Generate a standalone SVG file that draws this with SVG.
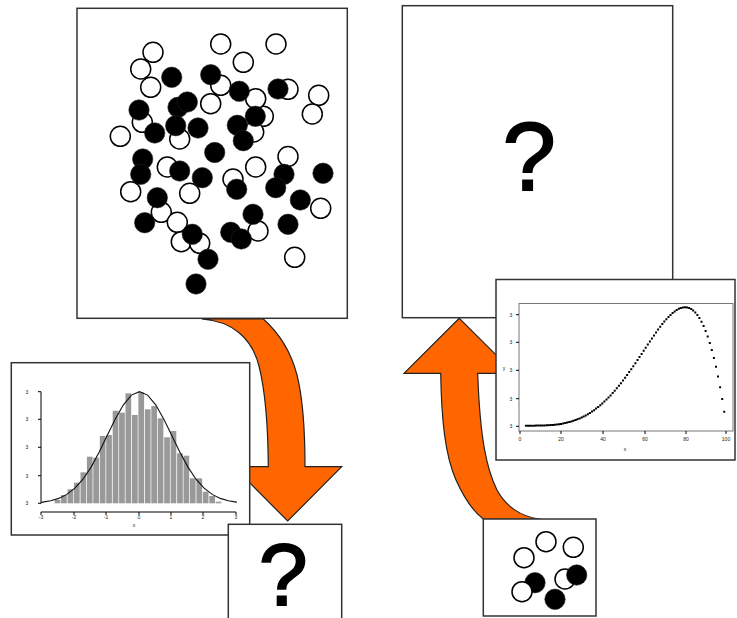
<svg xmlns="http://www.w3.org/2000/svg" width="737" height="618" viewBox="0 0 737 618">
<style>
.box{fill:#fff;stroke:#333;stroke-width:1.5}
.o{fill:#fff;stroke:#000;stroke-width:1.5}
.b{fill:#000;stroke:#222;stroke-width:0.6}
.arrow{fill:#ff6600;stroke:#222;stroke-width:1.2;stroke-linejoin:miter}
.q{font-family:"Liberation Sans",Arial,sans-serif;fill:#000;stroke:#000;stroke-width:1.8;text-anchor:middle}
.t{font-family:"Liberation Sans",Arial,sans-serif;fill:#222;text-anchor:middle;font-size:5px}
.ax{stroke:#000;stroke-width:1;fill:none}
.bar{fill:#999}
</style>
<rect width="737" height="618" fill="#fff"/>

<g id="population">
<rect class="box" x="77" y="8.3" width="270.3" height="310"/>
<g>
<circle class="o" cx="140.7" cy="69" r="10"/>
<circle class="o" cx="153" cy="52.3" r="10"/>
<circle class="o" cx="150.7" cy="87.3" r="10"/>
<circle class="o" cx="220.7" cy="44" r="10"/>
<circle class="o" cx="276" cy="44" r="10"/>
<circle class="o" cx="243.3" cy="62.3" r="10"/>
<circle class="o" cx="220.7" cy="85.3" r="10"/>
<circle class="o" cx="288" cy="89.3" r="10"/>
<circle class="o" cx="318.7" cy="95.3" r="10"/>
<circle class="o" cx="312.3" cy="114" r="10"/>
<circle class="o" cx="210.7" cy="103.7" r="10"/>
<circle class="o" cx="263.3" cy="116.3" r="10"/>
<circle class="o" cx="255.7" cy="98.7" r="10"/>
<circle class="o" cx="142.3" cy="122.3" r="10"/>
<circle class="o" cx="120.3" cy="136.3" r="10"/>
<circle class="o" cx="179.7" cy="139" r="10"/>
<circle class="o" cx="253.7" cy="132" r="10"/>
<circle class="o" cx="288" cy="156.5" r="10"/>
<circle class="o" cx="167.3" cy="167" r="10"/>
<circle class="o" cx="255.7" cy="167" r="10"/>
<circle class="o" cx="233" cy="179" r="10"/>
<circle class="o" cx="130.7" cy="191.7" r="10"/>
<circle class="o" cx="189.7" cy="193.3" r="10"/>
<circle class="o" cx="161.3" cy="212.3" r="10"/>
<circle class="o" cx="177.3" cy="222.3" r="10"/>
<circle class="o" cx="258" cy="231" r="10"/>
<circle class="o" cx="181.3" cy="241.7" r="10"/>
<circle class="o" cx="199.7" cy="243.3" r="10"/>
<circle class="o" cx="320.7" cy="208.3" r="10"/>
<circle class="o" cx="294.7" cy="257.3" r="10"/>
</g>
<g>
<circle class="b" cx="171.7" cy="77.3" r="10.2"/>
<circle class="b" cx="210.7" cy="74.7" r="10.2"/>
<circle class="b" cx="239.3" cy="91.3" r="10.2"/>
<circle class="b" cx="278" cy="89" r="10.2"/>
<circle class="b" cx="139" cy="110" r="10.2"/>
<circle class="b" cx="178" cy="107.3" r="10.2"/>
<circle class="b" cx="187.3" cy="102" r="10.2"/>
<circle class="b" cx="255.3" cy="116.3" r="10.2"/>
<circle class="b" cx="154.7" cy="133" r="10.2"/>
<circle class="b" cx="175.7" cy="125.7" r="10.2"/>
<circle class="b" cx="198" cy="128" r="10.2"/>
<circle class="b" cx="237.3" cy="125.3" r="10.2"/>
<circle class="b" cx="243.3" cy="140.7" r="10.2"/>
<circle class="b" cx="214.7" cy="152.5" r="10.2"/>
<circle class="b" cx="142.7" cy="159" r="10.2"/>
<circle class="b" cx="140.7" cy="174.3" r="10.2"/>
<circle class="b" cx="179.7" cy="171" r="10.2"/>
<circle class="b" cx="202.3" cy="177.7" r="10.2"/>
<circle class="b" cx="236.7" cy="189.3" r="10.2"/>
<circle class="b" cx="284" cy="174.3" r="10.2"/>
<circle class="b" cx="275.7" cy="187.7" r="10.2"/>
<circle class="b" cx="323" cy="173.3" r="10.2"/>
<circle class="b" cx="157.3" cy="197.7" r="10.2"/>
<circle class="b" cx="300.3" cy="200" r="10.2"/>
<circle class="b" cx="253" cy="214.3" r="10.2"/>
<circle class="b" cx="144.7" cy="222.7" r="10.2"/>
<circle class="b" cx="288" cy="224.3" r="10.2"/>
<circle class="b" cx="230.7" cy="232.3" r="10.2"/>
<circle class="b" cx="241.3" cy="239" r="10.2"/>
<circle class="b" cx="192.3" cy="234.3" r="10.2"/>
<circle class="b" cx="208" cy="259.3" r="10.2"/>
<circle class="b" cx="196" cy="284" r="10.2"/>
</g>
</g>

<g id="unknown-population">
<rect class="box" x="402.3" y="5.7" width="270.4" height="312"/>
<text class="q" x="529.3" y="189.5" font-size="96">?</text>
</g>

<g id="connectors">
<path id="arrow-down" class="arrow" d="M201.7 319 C232 321 252 338 259 366 C265 390 268 420 268.3 466.7 L233.7 466.7 L287.7 521 L341.7 466.7 L305 466.7 C305 425 302 395 297 375 C291 352 279 333 263.3 319 Z"/>
<path id="arrow-up" class="arrow" d="M459.3 318.3 L404 373.3 L440.7 373.3 C441.5 420 445 455 456 480 C465 500 474 512 483.3 519 L540 519 C520 517 505 505 497 490 C487 470 480 440 477.7 373.3 L514.6 373.3 Z"/>
</g>

<g id="histogram">
<rect class="box" x="11.3" y="362.7" width="238.4" height="172.3"/>
<g>
<rect class="bar" x="54.7" y="500" width="5.7" height="3.3"/>
<rect class="bar" x="61.1" y="495" width="5.7" height="8.3"/>
<rect class="bar" x="67.6" y="489.3" width="5.7" height="14"/>
<rect class="bar" x="74" y="482.7" width="5.7" height="20.6"/>
<rect class="bar" x="80.5" y="472.3" width="5.7" height="31"/>
<rect class="bar" x="86.9" y="456.7" width="5.7" height="46.6"/>
<rect class="bar" x="93.3" y="457.7" width="5.7" height="45.6"/>
<rect class="bar" x="99.8" y="436" width="5.7" height="67.3"/>
<rect class="bar" x="106.2" y="435" width="5.7" height="68.3"/>
<rect class="bar" x="112.7" y="410.7" width="5.7" height="92.6"/>
<rect class="bar" x="119.1" y="412.7" width="5.7" height="90.6"/>
<rect class="bar" x="125.5" y="393.3" width="5.7" height="110"/>
<rect class="bar" x="132" y="415" width="5.7" height="88.3"/>
<rect class="bar" x="138.4" y="392.3" width="5.7" height="111"/>
<rect class="bar" x="144.9" y="409.3" width="5.7" height="94"/>
<rect class="bar" x="151.3" y="406" width="5.7" height="97.3"/>
<rect class="bar" x="157.7" y="418.3" width="5.7" height="85"/>
<rect class="bar" x="164.2" y="437.3" width="5.7" height="66"/>
<rect class="bar" x="170.6" y="431" width="5.7" height="72.3"/>
<rect class="bar" x="177.1" y="453.3" width="5.7" height="50"/>
<rect class="bar" x="183.5" y="455.7" width="5.7" height="47.6"/>
<rect class="bar" x="189.9" y="478.3" width="5.7" height="25"/>
<rect class="bar" x="196.4" y="478.3" width="5.7" height="25"/>
<rect class="bar" x="202.8" y="491.7" width="5.7" height="11.6"/>
<rect class="bar" x="209.3" y="496" width="5.7" height="7.3"/>
<rect class="bar" x="215.7" y="501.7" width="5.7" height="1.6"/>
</g>
<path fill="none" stroke="#111" stroke-width="1.1" d="M41 502.7 L42.6 502.1 L50.7 500.8 L58.8 498.4 L66.8 494.4 L74.9 488.2 L83 479.2 L91.1 467.1 L99.1 452.2 L107.2 435.6 L115.3 419.1 L123.4 404.8 L131.4 395.1 L139.5 391.7 L147.6 395.1 L155.7 404.8 L163.7 419.1 L171.8 435.6 L179.9 452.2 L188 467.1 L196 479.2 L204.1 488.2 L212.2 494.4 L220.3 498.4 L228.3 500.8 L236.4 502.1 L237 502.3"/>
<path class="ax" d="M41 391.7 V503.3 M38 391.7 H41 M38 419.3 H41 M38 447.3 H41 M38 475.7 H41 M38 503.3 H41"/>
<path class="ax" d="M41 512 H236 M41 512 V515 M74 512 V515 M106 512 V515 M139 512 V515 M171 512 V515 M203 512 V515 M236 512 V515"/>
<g class="t" font-size="4">
<text x="27" y="393.5">3</text><text x="27" y="421">3</text><text x="27" y="449">3</text><text x="27" y="477.5">3</text><text x="27" y="505">3</text>
<text x="41" y="519">-3</text><text x="74" y="519">-2</text><text x="106" y="519">-1</text><text x="139" y="519">0</text><text x="171" y="519">1</text><text x="203" y="519">2</text><text x="236" y="519">3</text>
<text x="134" y="527">x</text>
</g>
</g>

<g id="sample-curve">
<rect class="box" x="496" y="279.5" width="239" height="180.5"/>
<rect x="519" y="303.5" width="214" height="127.5" fill="none" stroke="#777" stroke-width="1"/>
<path class="ax" d="M516 314.7 H519 M516 342.3 H519 M516 370.3 H519 M516 398.7 H519 M516 426.3 H519 M520 431 V434 M561 431 V434 M603 431 V434 M645 431 V434 M686 431 V434 M726 431 V434"/>
<path fill="none" stroke="#000" stroke-width="2" stroke-linecap="square" d="M525.9 425.7h0M528 425.7h0M530 425.7h0M532.1 425.7h0M534.2 425.7h0M536.2 425.6h0M538.3 425.6h0M540.4 425.6h0M542.4 425.5h0M544.5 425.4h0M546.6 425.3h0M548.6 425.2h0M550.7 425.1h0M552.8 424.9h0M554.8 424.7h0M556.9 424.5h0M559 424.2h0M561 423.9h0M563.1 423.5h0M565.2 423.1h0M567.2 422.6h0M569.3 422.1h0M571.4 421.5h0M573.4 420.8h0M575.5 420.1h0M577.5 419.3h0M579.6 418.4h0M581.7 417.5h0M583.7 416.5h0M585.8 415.4h0M587.9 414.2h0M589.9 412.9h0M592 411.6h0M594.1 410.2h0M596.1 408.6h0M598.2 407h0M600.3 405.3h0M602.3 403.5h0M604.4 401.6h0M606.5 399.6h0M608.5 397.5h0M610.6 395.4h0M612.7 393.1h0M614.7 390.7h0M616.8 388.3h0M618.9 385.8h0M620.9 383.2h0M623 380.5h0M625.1 377.8h0M627.1 375h0M629.2 372.1h0M631.3 369.2h0M633.3 366.2h0M635.4 363.2h0M637.5 360.1h0M639.5 357h0M641.6 353.9h0M643.7 350.8h0M645.7 347.7h0M647.8 344.5h0M649.9 341.5h0M651.9 338.4h0M654 335.4h0M656.1 332.5h0M658.1 329.6h0M660.2 326.8h0M662.3 324.1h0M664.3 321.6h0M666.4 319.2h0M668.5 316.9h0M670.5 314.9h0M672.6 313h0M674.7 311.4h0M676.7 310h0M678.8 308.8h0M680.8 308h0M682.9 307.4h0M685 307.3h0M687 307.5h0M689.1 308.1h0M691.2 309.1h0M693.2 310.6h0M695.3 312.5h0M697.4 315h0M699.4 318.1h0M701.5 321.7h0M703.6 325.9h0M705.6 330.9h0M707.7 336.5h0M709.8 342.9h0M711.8 350h0M713.9 358h0M716 366.8h0M718 376.6h0M720.1 387.3h0M722.2 399h0M724.2 411.8h0"/>
<g class="t">
<text x="511" y="316.5">3</text><text x="511" y="344">3</text><text x="511" y="372">3</text><text x="511" y="400.5">3</text><text x="511" y="428">3</text>
<text x="520" y="440.5">0</text><text x="561" y="440.5">20</text><text x="603" y="440.5">40</text><text x="645" y="440.5">60</text><text x="686" y="440.5">80</text><text x="726" y="440.5">100</text>
<text x="625" y="451">x</text><text x="504" y="370">y</text>
</g>
</g>

<g id="unknown-sample">
<rect class="box" x="228.3" y="524.3" width="113.4" height="100"/>
<text class="q" x="283.3" y="604.5" font-size="88">?</text>
</g>

<g id="sample">
<rect class="box" x="483.3" y="519" width="112.7" height="97"/>
<circle class="o" cx="546" cy="541.7" r="10"/>
<circle class="o" cx="573.3" cy="547.3" r="10"/>
<circle class="o" cx="524" cy="557.7" r="10"/>
<circle class="o" cx="565" cy="579" r="10"/>
<circle class="b" cx="535" cy="582.7" r="10.2"/>
<circle class="o" cx="522" cy="591.7" r="10"/>
<circle class="b" cx="576.7" cy="575" r="10.2"/>
<circle class="b" cx="555" cy="599.3" r="10.2"/>
</g>
</svg>
